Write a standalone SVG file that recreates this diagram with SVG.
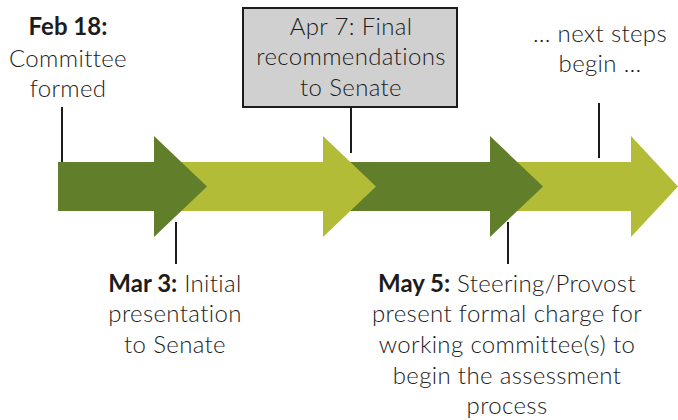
<svg xmlns="http://www.w3.org/2000/svg" width="678" height="420" viewBox="0 0 678 420">
<style>
.dark{fill:#617F2B}
.light{fill:#B2BC36}
.t{font-family:Lato,"Open Sans","Liberation Sans",sans-serif;font-size:24px;fill:#1c1c1c;text-anchor:middle;font-weight:300;letter-spacing:0.35px;font-variant-ligatures:none}
.b{font-weight:700;letter-spacing:0}
.c{stroke:#1c1c1c;stroke-width:2;fill:none}
</style>
<rect width="678" height="420" fill="#ffffff"/>
<g id="arrows">
<polygon class="light" points="480,162 631,162 631,136 678,186.5 631,237 631,211 480,211"/>
<polygon class="dark" points="320,162 490,162 490,136 543,186.5 490,237 490,211 320,211"/>
<polygon class="light" points="150,162 323,162 323,136 376,186.5 323,237 323,211 150,211"/>
<polygon class="dark" points="58,162 154,162 154,136 207,186.5 154,237 154,211 58,211"/>
</g>
<g id="connectors">
<line class="c" x1="62" y1="107" x2="62" y2="162"/>
<line class="c" x1="176" y1="222" x2="176" y2="264"/>
<line class="c" x1="351" y1="107" x2="351" y2="153"/>
<line class="c" x1="508" y1="222" x2="508" y2="264"/>
<line class="c" x1="599" y1="103" x2="599" y2="158"/>
</g>
<g id="feb18">
<text class="t" x="68" y="35"><tspan class="b">Feb 18:</tspan></text>
<text class="t" x="68" y="67">Committee</text>
<text class="t" x="68" y="97">formed</text>
</g>
<g id="apr7">
<rect x="243" y="8" width="214" height="99" fill="#D0D0D0" stroke="#1c1c1c" stroke-width="2"/>
<text class="t" x="351" y="35">Apr 7: Final</text>
<text class="t" x="351" y="65">recommendations</text>
<text class="t" x="351" y="96">to Senate</text>
</g>
<g id="nextsteps">
<text class="t" x="600" y="42">… next steps</text>
<text class="t" x="600" y="72">begin …</text>
</g>
<g id="mar3">
<text class="t" x="175" y="292"><tspan class="b">Mar 3:</tspan> Initial</text>
<text class="t" x="175" y="322">presentation</text>
<text class="t" x="175" y="353">to Senate</text>
</g>
<g id="may5">
<text class="t" x="507" y="292"><tspan class="b">May 5:</tspan> Steering/Provost</text>
<text class="t" x="507" y="322">present formal charge for</text>
<text class="t" x="507" y="353">working committee(s) to</text>
<text class="t" x="507" y="384">begin the assessment</text>
<text class="t" x="507" y="414">process</text>
</g>
</svg>
